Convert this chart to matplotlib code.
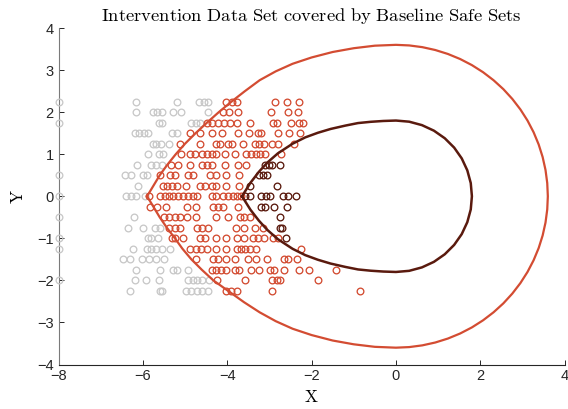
import numpy as np
import matplotlib
matplotlib.use("Agg")
import matplotlib.pyplot as plt

plt.rcParams['mathtext.fontset'] = 'cm'
plt.rcParams['font.family'] = ['Liberation Sans', 'DejaVu Sans']

# boundary of the outer (baseline) safe set
outer_x = [-5.90, -5.75, -5.60, -5.42, -5.22, -5.00, -4.75, -4.48, -4.20, -3.90, -3.58,
           -3.23, -2.85, -2.45, -2.00, -1.50, -1.00, -0.50,
           0.000, 0.314, 0.625, 0.932, 1.231, 1.521, 1.800, 2.065, 2.314, 2.546,
           2.758, 2.949, 3.118, 3.263, 3.383, 3.477, 3.545, 3.586, 3.600,
           3.586, 3.545, 3.477, 3.383, 3.263, 3.118, 2.949, 2.758, 2.546, 2.314,
           2.065, 1.800, 1.521, 1.231, 0.932, 0.625, 0.314, 0.000,
           -0.50, -1.00, -1.50, -2.00, -2.45, -2.85, -3.23, -3.60, -3.95, -4.33,
           -4.60, -4.85, -5.06, -5.24, -5.43, -5.60, -5.75, -5.90]
outer_y = [0.00, 0.25, 0.50, 0.75, 1.00, 1.25, 1.50, 1.75, 2.00, 2.25, 2.50,
           2.76, 2.97, 3.15, 3.30, 3.43, 3.52, 3.58,
           3.600, 3.586, 3.545, 3.477, 3.383, 3.263, 3.118, 2.949, 2.758, 2.546,
           2.314, 2.065, 1.800, 1.521, 1.231, 0.932, 0.625, 0.314, 0.000,
           -0.314, -0.625, -0.932, -1.231, -1.521, -1.800, -2.065, -2.314, -2.546, -2.758,
           -2.949, -3.118, -3.263, -3.383, -3.477, -3.545, -3.586, -3.600,
           -3.58, -3.52, -3.43, -3.30, -3.15, -2.97, -2.76, -2.52, -2.27, -2.00,
           -1.75, -1.50, -1.25, -1.00, -0.75, -0.50, -0.25, 0.00]

# boundary of the inner safe set
inner_x = [-3.65, -3.45, -3.25, -3.05, -2.80, -2.45, -2.15, -1.85, -1.55, -1.20, -0.90,
           -0.60, -0.30,
           0.000, 0.313, 0.616, 0.900, 1.157, 1.379, 1.559, 1.691, 1.773, 1.800,
           1.773, 1.691, 1.559, 1.379, 1.157, 0.900, 0.616, 0.313, 0.000,
           -0.30, -0.60, -0.90, -1.20, -1.55, -1.85, -2.15, -2.45, -2.80, -3.05,
           -3.25, -3.45, -3.65]
inner_y = [0.00, 0.32, 0.58, 0.80, 1.02, 1.25, 1.40, 1.51, 1.60, 1.68, 1.74,
           1.77, 1.79,
           1.800, 1.773, 1.691, 1.559, 1.379, 1.157, 0.900, 0.616, 0.313, 0.000,
           -0.313, -0.616, -0.900, -1.157, -1.379, -1.559, -1.691, -1.773, -1.800,
           -1.79, -1.77, -1.74, -1.68, -1.60, -1.51, -1.40, -1.25, -1.02, -0.80,
           -0.58, -0.32, 0.00]

# intervention data, grouped by row (y) -> x positions
grey_pts = {
    2.25: [-8.0, -6.17, -5.18, -4.67, -4.56, -4.45],
    2.0: [-6.17, -5.77, -5.66, -5.55, -5.28, -5.10, -4.45],
    1.75: [-8.0, -5.62, -5.54, -4.86, -4.75, -4.65],
    1.5: [-6.19, -6.09, -5.98, -5.88, -5.32, -5.20],
    1.25: [-5.77, -5.68, -5.56, -5.39],
    1.0: [-5.88, -5.61, -5.52],
    0.75: [-6.15, -5.80, -5.68, -5.54],
    0.5: [-8.0, -6.43, -6.28, -6.00, -5.91],
    0.25: [-6.11],
    0.0: [-8.0, -6.39, -6.29, -6.17, -5.95],
    -0.5: [-8.0, -6.22],
    -0.75: [-6.35, -5.99, -5.72, -5.60],
    -1.0: [-8.0, -5.88, -5.80, -5.64],
    -1.25: [-8.0, -6.23, -5.91, -5.80, -5.68, -5.54, -5.36],
    -1.5: [-6.47, -6.31, -6.03, -5.85, -5.68, -5.50],
    -1.75: [-6.17, -5.60, -5.28, -5.20, -4.93],
    -2.0: [-8.0, -6.19, -5.93, -5.61, -4.93, -4.82, -4.71, -4.61, -4.44],
    -2.25: [-6.31, -5.60, -5.54, -4.98, -4.85, -4.71, -4.59, -4.45],
}
red_pts = {
    2.25: [-4.02, -3.89, -3.76, -2.86, -2.58, -2.30],
    2.0: [-4.10, -3.97, -3.74, -2.97, -2.56, -2.32],
    1.75: [-4.48, -4.35, -4.22, -4.08, -3.94, -3.76, -3.47, -2.91, -2.83, -2.48, -2.31, -2.20],
    1.5: [-4.89, -4.65, -4.37, -4.12, -3.74, -3.49, -3.27, -3.19, -2.79, -2.54, -2.28],
    1.25: [-5.11, -4.65, -4.27, -4.18, -3.98, -3.88, -3.63, -3.35, -3.25, -3.13, -2.95, -2.79, -2.42],
    1.0: [-5.10, -4.89, -4.77, -4.61, -4.49, -4.37, -4.27, -4.06, -3.82, -3.55, -3.44, -3.33,
          -3.23, -3.10, -2.72],
    0.75: [-5.34, -5.17, -4.89, -4.59, -4.49, -4.37, -4.06, -3.74, -3.55],
    0.5: [-5.60, -5.36, -5.24, -4.93, -4.81, -4.41, -4.27, -4.03, -3.72],
    0.25: [-5.52, -5.43, -5.32, -5.20, -4.97, -4.65, -4.53, -4.37, -4.26, -4.02, -3.72],
    0.0: [-5.85, -5.60, -5.48, -5.38, -5.28, -5.17, -5.06, -4.93, -4.82, -4.71, -4.37, -4.26,
          -4.10, -3.98, -3.86, -3.78, -3.68],
    -0.25: [-5.82, -5.66, -5.46, -4.95, -4.73, -4.33, -4.22, -4.10, -3.75],
    -0.5: [-5.50, -5.38, -5.24, -5.13, -4.95, -4.73, -4.26, -3.98, -3.70, -3.60, -3.47],
    -0.75: [-5.38, -5.24, -5.11, -4.71, -4.61, -4.45, -3.80, -3.60, -3.35, -3.15],
    -1.0: [-5.32, -5.24, -5.06, -4.65, -4.53, -4.26, -4.02, -3.78, -3.60, -3.39, -3.28, -3.13,
           -2.91, -2.79],
    -1.25: [-4.89, -4.75, -4.63, -4.49, -4.26, -4.02, -3.78, -3.68, -3.57, -3.47, -3.33, -2.24],
    -1.5: [-4.75, -4.33, -4.22, -4.02, -3.82, -3.51, -3.33, -3.05, -2.65, -2.56, -2.35],
    -1.75: [-4.37, -4.27, -4.15, -4.02, -3.82, -3.73, -3.44, -3.25, -2.99, -2.89, -2.65, -2.31,
            -2.07, -1.41],
    -2.0: [-4.24, -3.59, -2.94, -2.83, -2.76, -1.86],
    -2.25: [-4.02, -3.92, -3.78, -2.95, -0.86],
}
dark_pts = {
    0.75: [-3.11, -3.01, -2.94, -2.76],
    0.5: [-3.25, -3.15, -3.05],
    0.25: [-3.47, -2.81],
    0.0: [-3.57, -3.47, -3.19, -3.09, -2.99, -2.68, -2.57, -2.38],
    -0.25: [-3.19, -3.10, -2.89, -2.58],
    -0.5: [-2.76],
    -0.75: [-2.76, -2.70],
    -1.0: [-2.60],
}

red = '#D34C32'
dark = '#5A1A0E'
grey = '#C8C8C8'


def flatten(rows):
    xs, ys = [], []
    for y, row in rows.items():
        xs += row
        ys += [y] * len(row)
    return np.array(xs), np.array(ys)


fig = plt.figure(figsize=(5.68, 4.09), dpi=100)
ax = fig.add_axes([0.103, 0.1088, 0.8912, 0.8227])

for rows, col in [(grey_pts, grey), (red_pts, red), (dark_pts, dark)]:
    xs, ys = flatten(rows)
    ax.plot(xs, ys, 'o', ms=4.8, mfc='none', mec=col, mew=0.95, clip_on=False, zorder=3)

ax.plot(outer_x, outer_y, color=red, lw=1.6, zorder=4, solid_joinstyle='round')
ax.plot(inner_x, inner_y, color=dark, lw=1.8, zorder=4, solid_joinstyle='round')

ax.set_xlim(-8, 4)
ax.set_ylim(-4, 4)
ax.set_xticks(np.arange(-8, 5, 2))
ax.set_yticks(np.arange(-4, 5, 1))
ax.spines['top'].set_visible(False)
ax.spines['right'].set_visible(False)
ax.spines['left'].set_color('#7a7a7a')
ax.spines['bottom'].set_color('#262626')
ax.tick_params(direction='in', length=3.5, width=0.7, labelsize=10.5, colors='#262626')

ax.set_title(r'$\mathrm{Intervention\ Data\ Set\ covered\ by\ Baseline\ Safe\ Sets}$',
             fontsize=13.4, pad=5)
ax.set_xlabel(r'$\mathrm{X}$', fontsize=12.5, labelpad=4)
ax.set_ylabel(r'$\mathrm{Y}$', fontsize=12.5, labelpad=8)

fig.savefig('out.png', dpi=100)
